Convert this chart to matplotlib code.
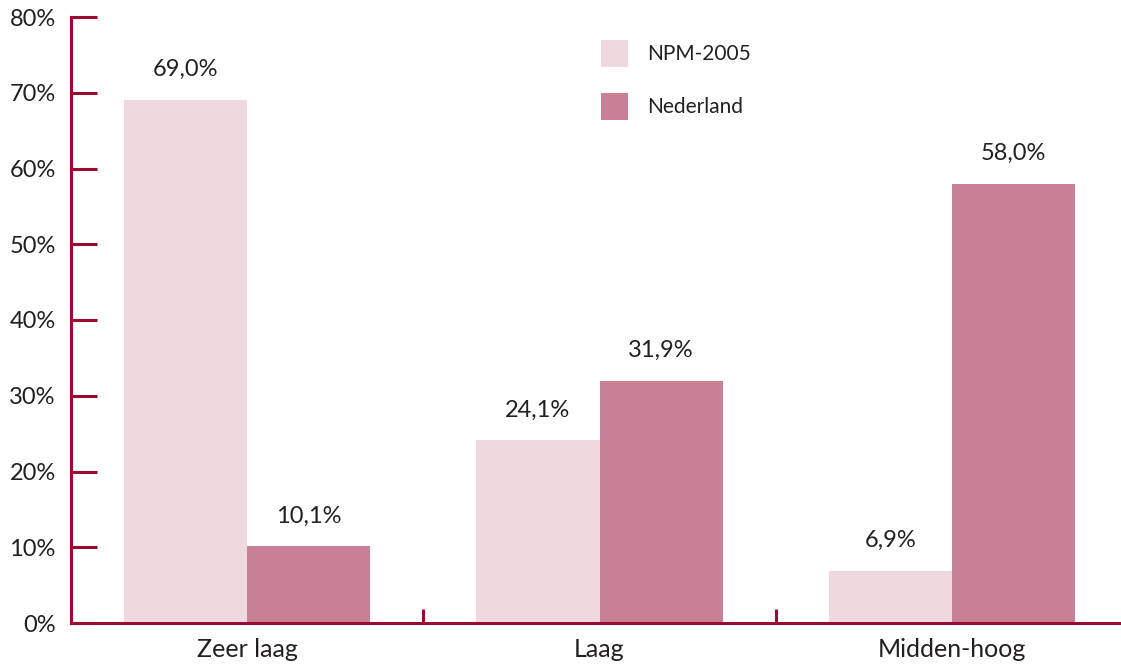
import matplotlib.pyplot as plt
import numpy as np

categories = ["Zeer laag", "Laag", "Midden-hoog"]
npm_2005 = [69.0, 24.1, 6.9]
nederland = [10.1, 31.9, 58.0]
series_names = ["NPM-2005", "Nederland"]

C_LIGHT = "#efd8de"
C_DARK = "#c98094"
C_AXIS = "#9b0a32"
C_TEXT = "#231f20"

plt.rcParams["font.family"] = ["Lato", "DejaVu Sans"]

fig = plt.figure(figsize=(11.21, 6.66), dpi=100)
ax = fig.add_axes([71 / 1121, 43 / 666, 1 - 71 / 1121, (623 - 17) / 666])

x = np.arange(len(categories))
w = 0.35
b1 = ax.bar(x - w / 2, npm_2005, w, color=C_LIGHT, label=series_names[0])
b2 = ax.bar(x + w / 2, nederland, w, color=C_DARK, label=series_names[1])

for bars, vals in ((b1, npm_2005), (b2, nederland)):
    for r, v in zip(bars, vals):
        ax.annotate(f"{v:.1f}%".replace(".", ","),
                    (r.get_x() + r.get_width() / 2, v),
                    xytext=(0, 22), textcoords="offset points",
                    ha="center", va="center", fontsize=17, color=C_TEXT)

ax.set_xlim(-0.5, 2.48)
ax.set_ylim(0, 80)
ax.set_yticks(np.arange(0, 81, 10))
ax.set_yticklabels([f"{t}%" for t in range(0, 81, 10)])
ax.set_xticks([0.5, 1.5])
ax.set_xticklabels([])
ax.set_xticks(x, minor=True)
ax.set_xticklabels(categories, minor=True)

for s in ("top", "right"):
    ax.spines[s].set_visible(False)
for s in ("left", "bottom"):
    ax.spines[s].set_color(C_AXIS)
    ax.spines[s].set_linewidth(2.2)

ax.tick_params(axis="y", direction="in", length=19, width=2.2, color=C_AXIS,
               labelsize=17, labelcolor=C_TEXT, pad=11)
ax.tick_params(axis="x", which="major", direction="in", length=10, width=2.2, color=C_AXIS)
ax.tick_params(axis="x", which="minor", length=0, labelsize=18, labelcolor=C_TEXT, pad=11)

ax.legend(loc="upper left", bbox_to_anchor=(0.487, 0.993), frameon=False, fontsize=15,
          handlelength=1.3, handleheight=1.6, labelspacing=1.25, handletextpad=0.9,
          labelcolor=C_TEXT)

fig.savefig("out.png", dpi=100)
